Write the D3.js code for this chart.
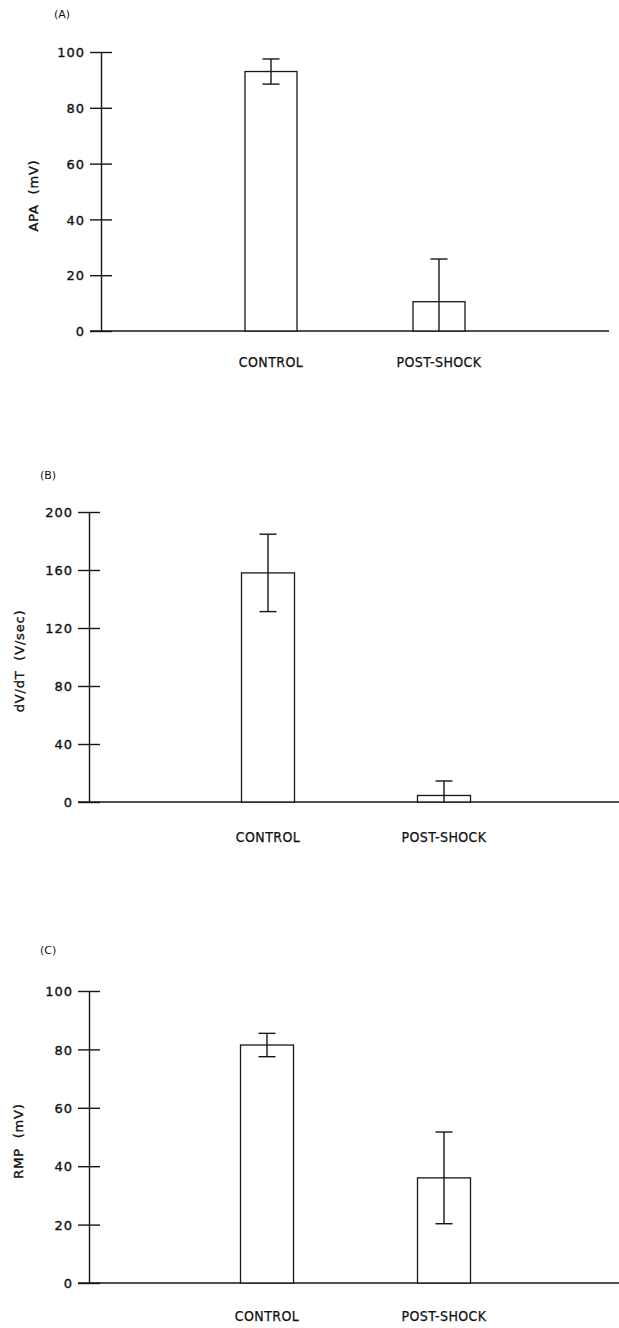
<!DOCTYPE html>
<html>
<head>
<meta charset="utf-8">
<script src="https://cdn.jsdelivr.net/npm/d3@7.9.0/dist/d3.min.js"></script>
<style>
  body { margin: 0; background: #fff; }
  svg { display: block; }
  text { fill: #111; font-family: "DejaVu Sans", sans-serif; }
  .tick text { font-size: 13px; letter-spacing: 1px; stroke: #111; stroke-width: 0.35px; }
  .cat { font-family: "DejaVu Sans Condensed", "DejaVu Sans", sans-serif; font-stretch: condensed;
         font-size: 14px; letter-spacing: 0.4px; stroke: #111; stroke-width: 0.25px; }
  .ylab { font-size: 13px; letter-spacing: 0.8px; white-space: pre; stroke: #111; stroke-width: 0.35px; }
  .tag { font-size: 11px; }
</style>
</head>
<body>
<svg id="chart" width="619" height="1328"></svg>
<script>
// -------------------------
// Data
// -------------------------
const groups = ['CONTROL', 'POST-SHOCK'];

const apaMean = [93, 10.5];
const apaErr = [4.5, 15.3];
const apaTicks = [0, 20, 40, 60, 80, 100];

const dvdtMean = [158, 4.5];
const dvdtErr = [26.7, 10];
const dvdtTicks = [0, 40, 80, 120, 160, 200];

const rmpMean = [81.5, 36];
const rmpErr = [4, 15.7];
const rmpTicks = [0, 20, 40, 60, 80, 100];

// -------------------------
// Panel layout (pixels)
// -------------------------
const panels = [
  { tag: '(A)', tagX: 54, tagY: 18, label: 'APA  (mV)', labelX: 33,
    mean: apaMean, err: apaErr, ticks: apaTicks,
    axisX: 101, top: 52, bottom: 331, cx: [271, 439], barW: 52,
    lineEnd: 609, catY: 367 },
  { tag: '(B)', tagX: 40, tagY: 479, label: 'dV/dT  (V/sec)', labelX: 19,
    mean: dvdtMean, err: dvdtErr, ticks: dvdtTicks,
    axisX: 89, top: 512, bottom: 802, cx: [268, 444], barW: 53,
    lineEnd: 619, catY: 842 },
  { tag: '(C)', tagX: 40, tagY: 954, label: 'RMP  (mV)', labelX: 18,
    mean: rmpMean, err: rmpErr, ticks: rmpTicks,
    axisX: 89, top: 991, bottom: 1283, cx: [267, 444], barW: 53,
    lineEnd: 619, catY: 1321 }
];

const svg = d3.select('#chart');
const ink = '#161616';

panels.forEach(p => {
  const g = svg.append('g');

  const y = d3.scaleLinear()
    .domain([0, d3.max(p.ticks)])
    .range([p.bottom, p.top]);

  const x = d3.scalePoint()
    .domain(groups)
    .range(p.cx);

  // y axis, ticks cross the axis line
  const axis = g.append('g')
    .attr('transform', `translate(${p.axisX},0)`)
    .call(d3.axisLeft(y).tickValues(p.ticks).tickSize(11).tickSizeOuter(0).tickPadding(5));
  axis.select('.domain').attr('stroke', ink).attr('stroke-width', 1.4);
  axis.selectAll('.tick line').attr('stroke', ink).attr('stroke-width', 1.4);
  axis.selectAll('.tick').append('line')
    .attr('x2', 11)
    .attr('stroke', ink).attr('stroke-width', 1.4);
  axis.selectAll('.tick text').attr('fill', '#111').attr('dy', '0.36em');

  // baseline
  g.append('line')
    .attr('x1', p.axisX - 11).attr('x2', p.lineEnd)
    .attr('y1', y(0)).attr('y2', y(0))
    .attr('stroke', ink).attr('stroke-width', 1.4);

  const rows = groups.map((name, i) => ({ name, mean: p.mean[i], err: p.err[i] }));

  // bars
  g.selectAll('rect.bar')
    .data(rows)
    .join('rect')
    .attr('class', 'bar')
    .attr('x', d => x(d.name) - p.barW / 2)
    .attr('width', p.barW)
    .attr('y', d => y(d.mean))
    .attr('height', d => y(0) - y(d.mean))
    .attr('fill', '#fff')
    .attr('stroke', ink)
    .attr('stroke-width', 1.3);

  // error bars (lower end clipped at zero, no cap there)
  const capW = 17;
  rows.forEach(d => {
    const hi = d.mean + d.err;
    const lo = Math.max(0, d.mean - d.err);
    const cx = x(d.name);
    g.append('line')
      .attr('x1', cx).attr('x2', cx)
      .attr('y1', y(hi)).attr('y2', y(lo))
      .attr('stroke', ink).attr('stroke-width', 1.4);
    g.append('line')
      .attr('x1', cx - capW / 2).attr('x2', cx + capW / 2)
      .attr('y1', y(hi)).attr('y2', y(hi))
      .attr('stroke', ink).attr('stroke-width', 1.4);
    if (lo > 0) {
      g.append('line')
        .attr('x1', cx - capW / 2).attr('x2', cx + capW / 2)
        .attr('y1', y(lo)).attr('y2', y(lo))
        .attr('stroke', ink).attr('stroke-width', 1.4);
    }
  });

  // category labels
  g.selectAll('text.cat')
    .data(groups)
    .join('text')
    .attr('class', 'cat')
    .attr('x', d => x(d))
    .attr('y', p.catY)
    .attr('text-anchor', 'middle')
    .text(d => d);

  // y label
  g.append('text')
    .attr('class', 'ylab')
    .attr('transform', `translate(${p.labelX},${(p.top + p.bottom) / 2 + 4}) rotate(-90)`)
    .attr('text-anchor', 'middle')
    .attr('dy', '0.35em')
    .text(p.label);

  // panel tag
  g.append('text')
    .attr('class', 'tag')
    .attr('x', p.tagX)
    .attr('y', p.tagY)
    .text(p.tag);
});
</script>
</body>
</html>
